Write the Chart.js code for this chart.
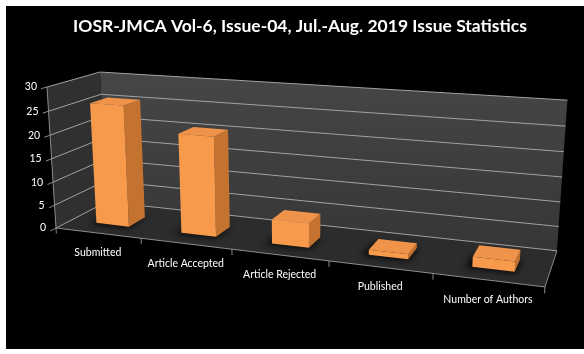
<!DOCTYPE html>
<html>
<head>
<meta charset="utf-8">
<script src="https://cdn.jsdelivr.net/npm/chart.js@4.4.0/dist/chart.umd.min.js"></script>
<style>
  html, body { margin: 0; padding: 0; background: #ffffff; }
  #wrap { width: 584px; height: 354px; }
</style>
</head>
<body>
<div id="wrap"><canvas id="myChart" width="584" height="354"></canvas></div>
<script>
const categories = ["Submitted", "Article Accepted", "Article Rejected", "Published", "Number of Authors"];
const counts = [26, 21, 5, 1, 2];
const yTicks = [0, 5, 10, 15, 20, 25, 30];
const chartTitle = "IOSR-JMCA Vol-6, Issue-04, Jul.-Aug. 2019 Issue Statistics";

// perspective box
// screen = (p0 + u*pu + v*pv + w*pw) / (1 + qu*u + qv*v + qw*w)
// u = along categories, v = value / max, w = depth (0 front, 1 back wall)
const view = {
  p0: [56, 228], pu: [403.4, 13.9], pv: [-10.7, -144.1], pw: [60, -8],
  qu: -0.157, qv: -0.036, qw: 0.0896,
};
const barFront = 0.29;
const barBack = 0.63;

function project(u, v, w) {
  const d = 1 + view.qu * u + view.qv * v + view.qw * w;
  return [
    (view.p0[0] + u * view.pu[0] + v * view.pv[0] + w * view.pw[0]) / d,
    (view.p0[1] + u * view.pu[1] + v * view.pv[1] + w * view.pw[1]) / d,
  ];
}

function fillPoly(ctx, pts, color) {
  ctx.beginPath();
  pts.forEach((p, i) => (i ? ctx.lineTo(p[0], p[1]) : ctx.moveTo(p[0], p[1])));
  ctx.closePath();
  ctx.fillStyle = color;
  ctx.fill();
}

function line(ctx, a, b, color) {
  ctx.beginPath();
  ctx.moveTo(a[0], a[1]);
  ctx.lineTo(b[0], b[1]);
  ctx.strokeStyle = color;
  ctx.lineWidth = 1;
  ctx.stroke();
}

const box3d = {
  id: "box3d",
  beforeDraw(chart) {
    const ctx = chart.ctx;
    ctx.save();
    ctx.fillStyle = "#000000";
    ctx.fillRect(6, 6, chart.width - 6, chart.height - 11);
    ctx.restore();
  },
  beforeDatasetsDraw(chart) {
    const ctx = chart.ctx;
    const area = chart.chartArea;
    const xs = chart.scales.x;
    const ys = chart.scales.y;
    const vOf = (py) => (area.bottom - py) / (area.bottom - area.top);
    const uOf = (px) => (px - area.left) / (area.right - area.left);
    ctx.save();

    // walls
    const back = ctx.createLinearGradient(0, 75, 0, 250);
    back.addColorStop(0, "#464646");
    back.addColorStop(1, "#363636");
    fillPoly(ctx, [project(0, 0, 1), project(1, 0, 1), project(1, 1, 1), project(0, 1, 1)], back);
    fillPoly(ctx, [project(0, 0, 0), project(0, 0, 1), project(0, 1, 1), project(0, 1, 0)], "#303030");
    fillPoly(ctx, [project(0, 0, 0), project(1, 0, 0), project(1, 0, 1), project(0, 0, 1)], "#2c2c2c");

    // value gridlines, ticks and labels
    const ticks = ys.ticks && ys.ticks.length ? ys.ticks.map((t) => t.value) : yTicks;
    ctx.font = "10.5px Lato";
    ctx.textAlign = "right";
    ctx.textBaseline = "middle";
    ticks.forEach((t) => {
      const v = vOf(ys.getPixelForValue(t));
      const a = project(0, v, 0);
      const b = project(0, v, 1);
      const c = project(1, v, 1);
      ctx.beginPath();
      ctx.moveTo(a[0], a[1]);
      ctx.lineTo(b[0], b[1]);
      ctx.lineTo(c[0], c[1]);
      ctx.strokeStyle = "#a2a2a2";
      ctx.lineWidth = 1;
      ctx.stroke();
      line(ctx, project(0, v, -0.1), a, "#8c8c8c");
      ctx.fillStyle = "#ffffff";
      ctx.fillText(String(t), a[0] - 10, a[1]);
    });

    // axis edges
    line(ctx, project(0, 0, 0), project(0, 1, 0), "#8c8c8c");
    line(ctx, project(0, 0, 0), project(1, 0, 0), "#8c8c8c");
    line(ctx, project(1, 0, 0), project(1, 0, 1), "#8c8c8c");

    // category ticks and labels
    const n = categories.length;
    const step = (area.right - area.left) / n;
    for (let i = 0; i <= n; i++) {
      const px = i < n ? xs.getPixelForValue(i) - step / 2 : xs.getPixelForValue(n - 1) + step / 2;
      const u = uOf(px);
      line(ctx, project(u, 0, 0), project(u, -0.04, 0), "#8c8c8c");
    }
    ctx.textAlign = "center";
    categories.forEach((label, i) => {
      const p = project(uOf(xs.getPixelForValue(i)), 0, 0);
      ctx.fillStyle = "#ffffff";
      ctx.fillText(label, p[0], p[1] + 20);
    });
    ctx.restore();
  },
  afterDatasetsDraw(chart) {
    const ctx = chart.ctx;
    const area = chart.chartArea;
    const vOf = (py) => (area.bottom - py) / (area.bottom - area.top);
    const uOf = (px) => (px - area.left) / (area.right - area.left);
    const meta = chart.getDatasetMeta(0);
    ctx.save();
    meta.data.forEach((el) => {
      const half = el.width / 2;
      const u0 = uOf(el.x - half);
      const u1 = uOf(el.x + half);
      const v0 = vOf(el.base);
      const v1 = vOf(el.y);
      const w0 = barFront;
      const w1 = barBack;

      // floor shadow
      ctx.save();
      ctx.filter = "blur(3px)";
      fillPoly(ctx, [project(u0 - 0.012, v0, w0 - 0.05), project(u1 + 0.004, v0, w0 - 0.05),
        project(u1 + 0.004, v0, w1), project(u0 - 0.012, v0, w1)], "rgba(0,0,0,0.75)");
      ctx.restore();

      fillPoly(ctx, [project(u1, v0, w0), project(u1, v0, w1), project(u1, v1, w1), project(u1, v1, w0)], "#c4722f");
      fillPoly(ctx, [project(u0, v1, w0), project(u1, v1, w0), project(u1, v1, w1), project(u0, v1, w1)], "#f0934a");
      fillPoly(ctx, [project(u0, v0, w0), project(u1, v0, w0), project(u1, v1, w0), project(u0, v1, w0)], "#f89a4c");
    });
    ctx.restore();
  },
};

new Chart(document.getElementById("myChart"), {
  type: "bar",
  data: {
    labels: categories,
    datasets: [
      {
        label: "",
        data: counts,
        backgroundColor: "rgba(0,0,0,0)",
        borderWidth: 0,
        categoryPercentage: 1,
        barPercentage: 0.39,
      },
    ],
  },
  options: {
    responsive: false,
    animation: false,
    layout: { padding: { left: 26, top: 6, right: 10, bottom: 10 } },
    plugins: {
      legend: { display: false },
      tooltip: { enabled: false },
      title: {
        display: true,
        text: chartTitle,
        color: "#ffffff",
        font: { family: "Lato", size: 17.5, weight: "bold" },
        padding: { top: 10, bottom: 10 },
      },
    },
    scales: {
      x: { display: false, offset: true },
      y: { display: false, min: 0, max: 30, ticks: { stepSize: 5 } },
    },
  },
  plugins: [box3d],
});
</script>
</body>
</html>
